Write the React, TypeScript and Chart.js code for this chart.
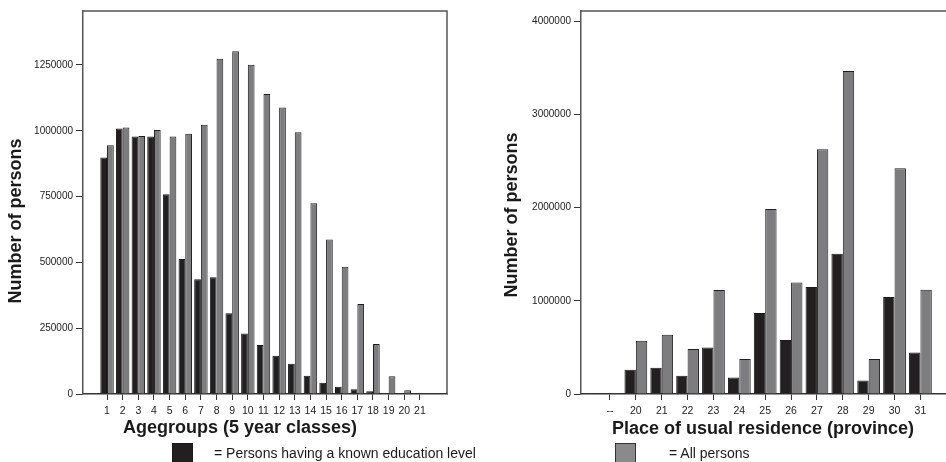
import React, { useEffect, useRef } from "react";
import { Chart, registerables } from "chart.js";

Chart.register(...registerables);

// ---- Data ----
const ageGroups = ["1","2","3","4","5","6","7","8","9","10","11","12","13","14","15","16","17","18","19","20","21"];
const ageKnownEdu = [898000, 1009000, 978000, 978000, 759000, 513000, 436000, 444000, 307000, 230000, 186000, 145000, 115000, 69000, 43000, 28000, 18000, 10000, 3000, 1000, 500];
const ageAll = [945000, 1012000, 980000, 1003000, 978000, 989000, 1023000, 1274000, 1302000, 1251000, 1140000, 1088000, 994000, 725000, 587000, 483000, 342000, 190000, 67000, 14000, 3000];
const ageYTicks = [0, 250000, 500000, 750000, 1000000, 1250000];

const provinces = ["--","20","21","22","23","24","25","26","27","28","29","30","31"];
const provKnownEdu = [8000, 260000, 282000, 196000, 500000, 178000, 868000, 579000, 1147000, 1504000, 146000, 1040000, 446000];
const provAll = [12000, 570000, 636000, 482000, 1115000, 375000, 1983000, 1196000, 2626000, 3465000, 375000, 2422000, 1118000];
const provYTicks = [0, 1000000, 2000000, 3000000, 4000000];

const legendKnown = "= Persons having a known education level";
const legendAll = "= All persons";

const FONT = "'Liberation Sans', Arial, sans-serif";
const BLACK = "#231f20";
const GREY = "#7d7d80";
const AXIS = "#333333";

type Cfg = {
  labels: string[];
  known: number[];
  all: number[];
  xOffset: number;
  xMin: number;
  xMax: number;
  yMax: number;
  yTicks: number[];
  catPct: number;
  areaLeft: number;
  padRight: number;
  xTitle: string;
  yTitle: string;
  xTitlePos: [number, number];
  yTitlePos: [number, number];
  drawRight: boolean;
};

function makeChart(canvas: HTMLCanvasElement, c: Cfg) {
  const titlePlugin = {
    id: "boxAndTitles",
    afterDraw(chart: any) {
      const ctx = chart.ctx as CanvasRenderingContext2D;
      const a = chart.chartArea;
      ctx.save();
      ctx.strokeStyle = "#555";
      ctx.lineWidth = 1.5;
      ctx.beginPath();
      ctx.moveTo(a.left, a.top);
      ctx.lineTo(a.right, a.top);
      if (c.drawRight) ctx.lineTo(a.right, a.bottom);
      ctx.stroke();
      ctx.fillStyle = "#1a1a1a";
      ctx.font = `bold 18px ${FONT}`;
      ctx.textAlign = "center";
      ctx.textBaseline = "middle";
      ctx.fillText(c.xTitle, c.xTitlePos[0], c.xTitlePos[1]);
      ctx.translate(c.yTitlePos[0], c.yTitlePos[1]);
      ctx.rotate(-Math.PI / 2);
      ctx.fillText(c.yTitle, 0, 0);
      ctx.restore();
    },
  };

  return new Chart(canvas, {
    type: "bar",
    data: {
      datasets: [
        {
          label: legendKnown,
          data: c.known.map((v, i) => ({ x: i + c.xOffset, y: v })),
          backgroundColor: BLACK,
          borderColor: "#1a1a1a",
          borderWidth: 1,
          categoryPercentage: c.catPct,
          barPercentage: 1,
        },
        {
          label: legendAll,
          data: c.all.map((v, i) => ({ x: i + c.xOffset, y: v })),
          backgroundColor: GREY,
          borderColor: "#1f1f1f",
          borderWidth: 1,
          categoryPercentage: c.catPct,
          barPercentage: 1,
        },
      ],
    },
    options: {
      responsive: false,
      animation: false,
      layout: { padding: { left: 0, top: 11, right: c.padRight, bottom: 0 } },
      plugins: { legend: { display: false }, tooltip: { enabled: false } },
      scales: {
        x: {
          type: "linear",
          offset: false,
          min: c.xMin,
          max: c.xMax,
          afterBuildTicks: (scale: any) => {
            scale.ticks = c.labels.map((_, i) => ({ value: i + c.xOffset }));
          },
          afterFit: (scale: any) => {
            scale.height = 68;
          },
          grid: { display: true, drawOnChartArea: false, drawTicks: true, tickLength: 6, color: AXIS, offset: false },
          border: { display: true, color: AXIS, width: 1.5 },
          ticks: {
            autoSkip: false,
            maxRotation: 0,
            padding: 5,
            color: "#222",
            font: { family: FONT, size: 10.5 },
            callback: (v: any) => c.labels[Math.round(Number(v) - c.xOffset)] ?? "",
          },
        },
        y: {
          type: "linear",
          min: 0,
          max: c.yMax,
          afterBuildTicks: (scale: any) => {
            scale.ticks = c.yTicks.map((v) => ({ value: v }));
          },
          afterFit: (scale: any) => {
            scale.width = c.areaLeft;
          },
          grid: { display: true, drawOnChartArea: false, drawTicks: true, tickLength: 7, color: AXIS },
          border: { display: true, color: "#555", width: 1.5 },
          ticks: {
            padding: 3,
            color: "#222",
            font: { family: FONT, size: 10 },
            callback: (v: any) => String(v),
          },
        },
      },
    },
    plugins: [titlePlugin],
  } as any);
}

function ChartCanvas({ cfg, width, height, left }: { cfg: Cfg; width: number; height: number; left: number }) {
  const ref = useRef<HTMLCanvasElement | null>(null);
  useEffect(() => {
    if (!ref.current) return;
    const ch = makeChart(ref.current, cfg);
    return () => ch.destroy();
  }, []);
  return (
    <canvas
      ref={ref}
      width={width}
      height={height}
      style={{ position: "absolute", left, top: 0, width, height }}
    />
  );
}

const leftCfg: Cfg = {
  labels: ageGroups,
  known: ageKnownEdu,
  all: ageAll,
  xOffset: 1,
  xMin: -0.536,
  xMax: 22.73,
  yMax: 1455000,
  yTicks: ageYTicks,
  catPct: 0.86,
  areaLeft: 83,
  padRight: 33,
  xTitle: "Agegroups (5 year classes)",
  yTitle: "Number of persons",
  xTitlePos: [240, 428],
  yTitlePos: [16, 221],
  drawRight: true,
};

const rightCfg: Cfg = {
  labels: provinces,
  known: provKnownEdu,
  all: provAll,
  xOffset: 0,
  xMin: -1.12,
  xMax: 13.53,
  yMax: 4108000,
  yTicks: provYTicks,
  catPct: 0.88,
  areaLeft: 101,
  padRight: 20,
  xTitle: "Place of usual residence (province)",
  yTitle: "Number of persons",
  xTitlePos: [283, 429],
  yTitlePos: [32, 215],
  drawRight: true,
};

export default function App() {
  useEffect(() => {
    document.body.style.margin = "0";
    document.body.style.overflow = "hidden";
  }, []);
  return (
    <div style={{ position: "fixed", left: 0, top: 0, width: 946, height: 462, overflow: "hidden", background: "#fff" }}>
      <ChartCanvas cfg={leftCfg} width={480} height={462} left={0} />
      <ChartCanvas cfg={rightCfg} width={500} height={462} left={480} />
      <div style={{ position: "absolute", left: 172, top: 443, width: 19, height: 24, background: BLACK, border: "1px solid #1a1a1a" }} />
      <div style={{ position: "absolute", left: 214, top: 444, fontFamily: FONT, fontSize: 14, lineHeight: "18px", color: "#1a1a1a", whiteSpace: "nowrap" }}>
        {legendKnown}
      </div>
      <div style={{ position: "absolute", left: 615, top: 443, width: 19, height: 24, background: "#8a8a8c", border: "1px solid #333" }} />
      <div style={{ position: "absolute", left: 669, top: 444, fontFamily: FONT, fontSize: 14, lineHeight: "18px", color: "#1a1a1a", whiteSpace: "nowrap" }}>
        {legendAll}
      </div>
    </div>
  );
}
